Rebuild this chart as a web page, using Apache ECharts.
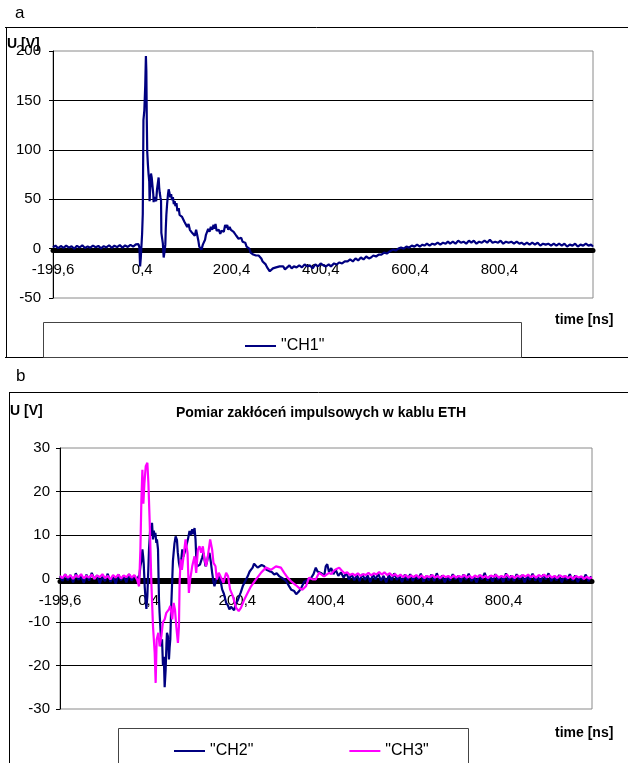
<html>
<head>
    <meta charset="utf-8">
    <script src="https://cdn.jsdelivr.net/npm/echarts@6.0.0/dist/echarts.min.js"></script>
    <style>
        body { margin: 0; background: #fff; }
        #main { width: 628px; height: 763px; }
    </style>
</head>
<body>
    <div id="main"></div>
    <script>
        // time axis labels (ns) and y ticks
        const timeTicks = [-199.6, 0.4, 200.4, 400.4, 600.4, 800.4];
        const yTicksA = [-50, 0, 50, 100, 150, 200];
        const yTicksB = [-30, -20, -10, 0, 10, 20, 30];
        const seriesNamesA = ['"CH1"'];
        const seriesNamesB = ['"CH2"', '"CH3"'];
        const titleB = 'Pomiar zakłóceń impulsowych w kablu ETH';

        // CH1 [t ns, U V]
        const ch1Data = [
            [-199.6,1.2],[-194,3.0],[-188,0.4],[-182,2.6],[-176,0.8],[-170,3.1],[-164,1.0],[-158,2.4],[-152,-0.2],[-146,2.8],
            [-140,1.1],[-134,3.3],[-128,0.6],[-122,2.2],[-116,0.9],[-110,3.0],[-104,1.4],[-98,2.7],[-92,0.3],[-86,2.5],
            [-80,1.2],[-74,3.4],[-68,0.8],[-62,2.9],[-56,1.5],[-50,3.6],[-44,1.0],[-38,3.2],[-32,1.7],[-26,3.8],
            [-20,2.0],[-14,4.2],[-10,3.0],[-8,4.5],[-6,1],[-4.5,-18],[-3,-10],[0,15],[1.5,35],[3,130],
            [5,140],[7,165],[8.5,195],[9.5,180],[10.5,130],[11.5,98],[13,85],[14.5,75],[16,68],[16.8,48],
            [18,60],[19.9,76],[21.5,72],[23.5,70],[25,55],[25.8,47],[27,52],[28,53],[30,50],[31.5,48],
            [33.4,60],[35,58],[37,72],[38.2,62],[39.3,57],[41,52],[42.4,49],[43.1,16],[45.3,14],[46.5,5],
            [48.3,-9],[50,-4],[52,4],[53,20],[54.3,34],[56,45],[58,55],[59.5,60],[61,57],[63,52],
            [65,55],[67,49],[69,52],[71,45],[73,48],[74.6,43],[77,46],[79,38],[82,41],[84,34],
            [87,36],[89.6,32],[92,30],[95,27],[98,29],[101,22],[104,25],[107,19],[110,21],[112,16],
            [115,18],[118,13],[121,19],[123.3,14],[126,8],[128,2],[130.7,3],[133,-1],[136,4],[138.2,2],
            [141,9],[143,14],[145.8,16],[148,20],[151,17],[154,22],[157,19],[160,24],[162,20],[164.4,25],
            [167,18],[170,16],[172,19],[175,15],[178,18],[180,20],[183,17],[186,24],[188,21],[190.7,24],
            [193,19],[196,22],[199,19],[202,21],[205,17],[208,15],[211,13],[213.2,14],[216,10],[219,9],
            [222,11],[225,7],[228,5],[231,6],[234,2],[237,3],[240,0],[243,-4],[246,-3],[249,-6],
            [252,-5],[255,-7],[258,-6],[261,-7],[264,-6],[267,-10],[270,-13],[273,-15],[276.8,-16],[280,-19],
            [283,-21],[286,-23],[288,-24],[290,-22],[293,-20],[296,-21],[300,-19],[304,-21],[308,-18],[312,-20],
            [316,-18],[320,-21],[325,-19],[330,-17],[335,-20],[340,-18],[346,-19],[352,-17],[358,-19],[364,-16],
            [370,-18],[376,-17],[382,-20],[388,-16],[394,-18],[400,-15],[406,-17],[412,-18],[418,-16],[423,-18],
            [430,-15],[436,-16],[442,-14],[448,-15],[454,-13],[460.4,-13],[466,-11],[472,-13],[478,-10],[484,-12],
            [490,-9],[496,-11],[502,-8],[508,-10],[512.8,-9],[518,-7],[524,-8],[530,-6],[536,-6],[542,-4],
            [548,-5],[554,-3],[557.7,-3],[562,-1],[568,-2],[574,0],[580,1],[586,0],[592,2],[598,1],
            [604,3],[610,2],[616,4],[622,2],[628,4],[632.5,3],[638,5],[644,3],[650,5],[656,4],
            [662,6],[668,4],[674,6],[680,5],[685,7],[690,5],[696,7],[702,5],[708,8],[714,6],
            [720,7],[726,5],[732,8],[737.5,6],[743,8],[749,5],[755,7],[761,6],[767,8],[773,6],
            [779,9],[785,6],[791,7],[797.5,6],[803,8],[809,5],[815,7],[821,6],[827,7],[833,5],
            [839,7],[845,5],[849.8,6],[856,4],[862,6],[868,4],[874,6],[880,4],[886,6],[892,3],
            [898,5],[904,4],[909.8,5],[916,3],[922,5],[928,3],[934,5],[940,3],[946,5],[952,2],
            [958,4],[964,3],[970,5],[976,2],[982,4],[988,3],[994,5],[1000,3],[1006,4],[1010,2]
        ];

        // CH2 [t ns, U V] panel b, navy trace
        const ch2Data = [
            [-199.6,0.5],[-194,-0.6],[-188,1.0],[-182,-0.4],[-176,0.8],[-170,-0.9],[-164,1.2],[-158,-0.3],[-152,0.6],[-146,-1.0],
            [-140,0.9],[-134,-0.5],[-128,1.3],[-122,-0.2],[-116,0.7],[-110,-1.1],[-104,0.4],[-98,-0.6],[-92,1.1],[-86,-0.8],
            [-80,0.5],[-74,-1.2],[-68,0.9],[-62,-0.4],[-56,0.6],[-50,-0.9],[-44,1.0],[-38,-0.5],[-32,0.7],[-26,-0.3],
            [-22,0.6],[-21.3,0],[-18.3,2.8],[-16,4],[-13.8,6.7],[-12,5],[-10.8,3.4],[-8.6,-1.8],[-6.5,-5],[-4.8,-7],
            [-2.6,-4],[-0.5,2],[1.1,6.7],[3,10],[4.1,12],[6,10],[7.9,12.8],[10.1,9],[12,11],[13.9,9.5],
            [15.5,10.5],[17.6,8.2],[19,9],[21.4,6.7],[23.6,-4.8],[25,-8],[26.6,-11],[28.9,-15.6],[30.5,-14],[32.6,-20],
            [34.5,-18],[36.4,-25],[38.6,-21],[40.5,-15],[41.6,-12.5],[43.8,-13.3],[46.1,-18.6],[47.5,-16],[49.1,-14],[51,-7],
            [53.6,0],[55,4],[56.6,5.9],[58.5,8],[61.1,9.7],[64.1,8.9],[66,6],[68.6,3.6],[71.6,2],[74,4.5],
            [76.1,6.7],[78.5,5],[81.3,5.2],[83,6.5],[85,6.7],[88.8,9],[92.5,10.9],[95,10],[98.5,11.3],[101,10.2],
            [103.8,11.6],[106,9],[108,4],[109.5,2.8],[113.5,2.4],[116,3.2],[118.7,3.6],[121,4.8],[124,5.9],[126,4.5],
            [128.5,2.8],[131.5,3.6],[134,5],[137.5,5.9],[140.5,3.8],[143.5,1.3],[146,-0.5],[148.7,-1.8],[152.5,-0.2],[156,-0.6],
            [160,0.5],[163,-0.8],[166,-2.5],[170,-3.5],[175,-5.6],[179,-6.2],[182.4,-7.1],[186,-6.5],[189.9,-6.3],[193,-7.3],
            [197.4,-5.6],[201,-5.1],[204.9,-4],[208,-3.2],[212.4,-1.8],[217,-0.8],[223.6,0.5],[228,1.6],[234.8,2.5],[238,3.4],
            [242.3,3.2],[246,2.5],[249.8,2.5],[255,3.1],[261,2.8],[266,2.0],[272.3,1.7],[278,1.5],[283.5,0.9],[289,1.2],
            [294.8,0.5],[300,0.2],[306,-0.2],[311,-0.7],[317.2,-1.8],[322,-2.6],[328.5,-2.9],[333,-3.6],[339.7,-2.9],[345,-2],
            [351,-0.8],[358,-0.3],[365.9,0],[372,1.0],[377.2,2.5],[381,1.6],[384.6,2.0],[390,1.2],[396,0.5],[399.6,2.8],
            [403,3.3],[407,1.5],[412,2.4],[417,1.0],[422,2.0],[428,0.6],[434,1.4],[440,0.2],[446,1.3],[452,-0.2],
            [458,0.9],[464,-0.4],[470,0.8],[476,-0.6],[482,1.0],[488,-0.3],[494,0.7],[500,-0.8],[506,0.9],[512,-0.2],
            [518,1.1],[524,-0.5],[530,0.6],[536,-0.9],[542,0.8],[548,-0.4],[554,1.2],[560,-0.3],[566,0.5],[572,-0.8],
            [578,0.9],[584,-0.4],[590,1.0],[596,-0.6],[602,0.7],[608,-0.2],[614,1.1],[620,-0.7],[626,0.6],[632,-0.4],
            [638,0.9],[644,-0.6],[650,1.2],[656,-0.3],[662,0.7],[668,-0.9],[674,0.5],[680,-0.5],[686,1.0],[692,-0.2],
            [698,0.6],[704,-0.8],[710,0.9],[716,-0.3],[722,1.1],[728,-0.6],[734,0.4],[740,-0.9],[746,0.8],[752,-0.2],
            [758,1.3],[764,-0.5],[770,0.6],[776,-0.7],[782,1.0],[788,-0.3],[794,0.5],[800,-0.8],[806,1.2],[812,-0.4],
            [818,0.7],[824,-0.6],[830,1.0],[836,-0.2],[842,0.8],[848,-0.9],[854,0.6],[860,-0.3],[866,1.1],[872,-0.5],
            [878,0.4],[884,-0.8],[890,0.9],[896,-0.2],[902,1.2],[908,-0.6],[914,0.5],[920,-0.4],[926,0.8],[932,-0.9],
            [938,0.6],[944,-0.3],[950,1.0],[956,-0.5],[962,0.7],[968,-0.8],[974,0.4],[980,-0.3],[986,0.9],[992,-0.6],
            [998,0.5]
        ];

        // CH3 [t ns, U V] panel b, magenta trace
        const ch3Data = [
            [-199.6,0.6],[-194,0.1],[-188,0.9],[-182,0.2],[-176,0.7],[-170,-0.1],[-164,0.8],[-158,0.3],[-152,1.0],[-146,0.0],
            [-140,0.6],[-134,0.2],[-128,0.9],[-122,-0.1],[-116,0.7],[-110,0.3],[-104,1.0],[-98,0.1],[-92,0.6],[-86,-0.2],
            [-80,0.8],[-74,0.2],[-68,0.9],[-62,0.0],[-56,0.7],[-50,0.3],[-44,1.0],[-38,0.2],[-32,0.8],[-28,0.5],
            [-25.8,-0.2],[-21.3,-1.8],[-18.3,6.7],[-16.1,18],[-13.8,25],[-11.6,17.2],[-9.3,21.8],[-6.3,25.8],[-2.6,26.6],[-0.3,22],
            [2.7,12.8],[6.4,-1],[10.1,-11],[13.9,-17],[16.1,-24],[18.4,-14],[22.1,-12.5],[25.1,-15.6],[28.9,-13.3],[32.6,-10],
            [36.4,-9.4],[40.1,-7.9],[46.1,-7.1],[49.1,-6.3],[53.6,-9.4],[56.6,-5.6],[59.6,-7.1],[62.6,-11],[66.3,-14.8],[68.6,-11],
            [70.1,-1],[72.3,4.4],[75.3,2],[79,5.1],[83.5,9],[88,5.9],[91,-3.3],[94,-0.2],[98.5,2.8],[103.8,5.1],
            [107.5,1.3],[111.3,6.6],[115,7.4],[118.7,5.9],[122.5,7.4],[126.2,4.4],[130,2.8],[133.7,5.1],[139,9],[143.5,6.6],
            [146.5,3.6],[151,2.8],[154,-0.2],[158.4,1.3],[163.7,0.2],[169,-1],[175,1.3],[179.4,0.5],[183.9,-2.5],[189.9,-4],
            [197.4,-6.7],[203.4,-7.5],[208.6,-6.7],[216.1,-4.8],[223.6,-3.3],[231.1,-1.8],[242.3,-0.2],[253.6,1.3],[264.8,2.5],[276,2.0],
            [287.3,2.8],[298.5,2.5],[306,1.3],[313.5,0.2],[321,-0.6],[332,-1.5],[340,-2.2],[347,-2.6],[355,-1.8],[362,0.2],
            [369.7,-0.2],[377.2,-0.2],[384.6,1.3],[395.9,0.5],[407,1.3],[412,1.0],[418,1.8],[424,2.2],[430,2.5],[436,1.8],
            [442,1.2],[448,1.4],[454,0.8],[460,1.1],[466,0.7],[472,1.2],[478,0.6],[484,1.0],[490,0.8],[496,1.3],
            [502,0.7],[508,1.2],[514,0.9],[520,1.5],[526,0.9],[532,1.4],[538,0.8],[544,1.2],[550,0.6],[556,1.0],
            [562,0.4],[568,0.9],[574,0.3],[580,0.8],[586,0.2],[592,0.7],[598,0.3],[604,0.8],[610,0.2],[616,0.7],
            [622,0.1],[628,0.6],[634,0.3],[640,0.8],[646,0.2],[652,0.6],[658,0.1],[664,0.7],[670,0.3],[676,0.6],
            [682,0.1],[688,0.7],[694,0.2],[700,0.6],[706,0.3],[712,0.8],[718,0.2],[724,0.6],[730,0.1],[736,0.7],
            [742,0.3],[748,0.8],[754,0.2],[760,0.6],[766,0.1],[772,0.7],[778,0.4],[784,0.8],[790,0.2],[796,0.6],
            [802,0.3],[808,0.9],[814,0.2],[820,0.6],[826,0.1],[832,0.7],[838,0.3],[844,0.8],[850,0.4],[856,0.9],
            [862,0.3],[868,0.7],[874,0.2],[880,0.8],[886,0.4],[892,0.9],[898,0.3],[904,0.7],[910,0.2],[916,0.6],
            [922,0.1],[928,0.7],[934,0.3],[940,0.6],[946,0.1],[952,0.5],[958,-0.1],[964,0.6],[970,0.2],[976,0.5],
            [982,-0.1],[988,0.4],[994,0.0],[1000,0.3]
        ];

        var font = 'Liberation Sans';
        var myChart = echarts.init(document.getElementById('main'));

        // x axis sits on the zero line: offset it up from the grid bottom
        function timeAxis(gridIndex, max, offset) {
            return {
                type: 'value', gridIndex: gridIndex, position: 'bottom',
                min: timeTicks[0], max: max, offset: offset,
                axisLine: { onZero: false, lineStyle: { color: '#000', width: 5 } },
                axisTick: { show: false },
                splitLine: { show: false },
                axisLabel: {
                    customValues: timeTicks, margin: 12,
                    color: '#000', fontFamily: font, fontSize: 15,
                    formatter: v => String(v).replace('.', ',')
                }
            };
        }

        function valueAxis(gridIndex, ticks, margin) {
            return {
                type: 'value', gridIndex: gridIndex,
                min: ticks[0], max: ticks[ticks.length - 1],
                interval: ticks[1] - ticks[0],
                axisLine: { show: true, onZero: false, lineStyle: { color: '#000', width: 1 } },
                axisTick: { show: true, length: 4, lineStyle: { color: '#000' } },
                splitLine: { show: true, showMinLine: false, showMaxLine: false, lineStyle: { color: '#000', width: 1 } },
                axisLabel: { margin: margin, color: '#000', fontFamily: font, fontSize: 15 }
            };
        }

        var option = {
            animation: false,
            backgroundColor: '#fff',
            grid: [
                { left: 53, top: 51, width: 540, height: 247, show: true, borderColor: '#8a8a8a', borderWidth: 1 },
                { left: 60, top: 448, width: 532, height: 261, show: true, borderColor: '#8a8a8a', borderWidth: 1 }
            ],
            xAxis: [timeAxis(0, 1010, -47.5), timeAxis(1, 1000, -127.5)],
            yAxis: [valueAxis(0, yTicksA, 12), valueAxis(1, yTicksB, 10)],
            legend: [
                {
                    data: seriesNamesA, left: 240, top: 333, icon: 'rect',
                    itemWidth: 31, itemHeight: 2,
                    textStyle: { color: '#000', fontFamily: font, fontSize: 16 }
                },
                {
                    data: seriesNamesB, left: 169, top: 738, icon: 'rect',
                    itemWidth: 31, itemHeight: 2, itemGap: 96,
                    textStyle: { color: '#000', fontFamily: font, fontSize: 16 }
                }
            ],
            series: [
                {
                    name: seriesNamesA[0], type: 'line', xAxisIndex: 0, yAxisIndex: 0,
                    data: ch1Data, showSymbol: false, color: '#000080',
                    lineStyle: { width: 2.2, color: '#000080' }
                },
                {
                    name: seriesNamesB[0], type: 'line', xAxisIndex: 1, yAxisIndex: 1,
                    data: ch2Data, showSymbol: false, color: '#000080',
                    lineStyle: { width: 2.2, color: '#000080' }
                },
                {
                    name: seriesNamesB[1], type: 'line', xAxisIndex: 1, yAxisIndex: 1,
                    data: ch3Data, showSymbol: false, color: '#ff00ff',
                    lineStyle: { width: 2.2, color: '#ff00ff' }
                }
            ],
            graphic: [
                // panel a frame
                { type: 'text', left: 15, top: 5, style: { text: 'a', fontFamily: font, fontSize: 17, fill: '#000' } },
                { type: 'line', shape: { x1: 5, y1: 27.5, x2: 628, y2: 27.5 }, style: { stroke: '#000', lineWidth: 1 } },
                { type: 'line', shape: { x1: 6.5, y1: 27, x2: 6.5, y2: 357 }, style: { stroke: '#000', lineWidth: 1 } },
                { type: 'line', shape: { x1: 5, y1: 357.5, x2: 628, y2: 357.5 }, style: { stroke: '#000', lineWidth: 1 } },
                { type: 'rect', shape: { x: 43.5, y: 322.5, width: 478, height: 35 }, style: { fill: 'none', stroke: '#444', lineWidth: 1 } },
                { type: 'text', left: 7, top: 37, style: { text: 'U [V]', fontFamily: font, fontSize: 14, fontWeight: 'bold', fill: '#000' } },
                { type: 'text', left: 555, top: 313, style: { text: 'time [ns]', fontFamily: font, fontSize: 14, fontWeight: 'bold', fill: '#000' } },
                // panel b frame
                { type: 'text', left: 16, top: 368, style: { text: 'b', fontFamily: font, fontSize: 17, fill: '#000' } },
                { type: 'line', shape: { x1: 9, y1: 392.5, x2: 628, y2: 392.5 }, style: { stroke: '#000', lineWidth: 1 } },
                { type: 'line', shape: { x1: 9.5, y1: 392, x2: 9.5, y2: 763 }, style: { stroke: '#000', lineWidth: 1 } },
                { type: 'rect', shape: { x: 118.5, y: 728.5, width: 350, height: 40 }, style: { fill: 'none', stroke: '#444', lineWidth: 1 } },
                { type: 'text', left: 10, top: 404, style: { text: 'U [V]', fontFamily: font, fontSize: 14, fontWeight: 'bold', fill: '#000' } },
                { type: 'text', x: 321, y: 413, style: { text: titleB, fontFamily: font, fontSize: 14, fontWeight: 'bold', fill: '#000', align: 'center', verticalAlign: 'middle' } },
                { type: 'text', left: 555, top: 726, style: { text: 'time [ns]', fontFamily: font, fontSize: 14, fontWeight: 'bold', fill: '#000' } }
            ]
        };
        myChart.setOption(option);
    </script>
</body>
</html>
